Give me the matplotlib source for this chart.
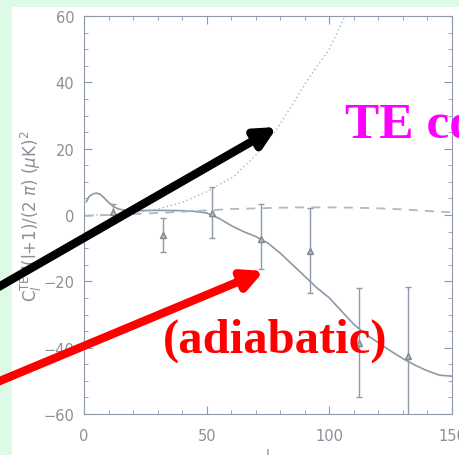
import matplotlib
matplotlib.use("Agg")
import matplotlib.pyplot as plt
from matplotlib.patches import Rectangle
from matplotlib.ticker import MultipleLocator

# adiabatic TE model (solid)
l_ad = [1, 2, 3.5, 5, 6.5, 8, 10, 12, 14, 17, 20, 30, 40, 45, 50, 55, 60, 65, 70, 75, 80, 85,
        90, 95, 100, 105, 110, 115, 120, 125, 130, 135, 140, 145, 150]
te_ad = [4, 5.5, 6.3, 6.6, 6.3, 5.3, 3.8, 2.6, 1.8, 1.4, 1.3, 1.4, 1.3, 1.1, 0.6, -1, -3.2, -5, -6.5,
         -8.5, -11.5, -15, -18.5, -22, -25, -29, -33, -36, -38.5, -41, -43.3, -45.3, -47, -48.3, -48.6]

# dashed model
l_dash = [0, 10, 20, 30, 40, 50, 60, 70, 80, 90, 100, 110, 120, 130, 140, 150]
te_dash = [-0.3, 0, 0.3, 0.6, 1, 1.4, 1.8, 2, 2.2, 2.3, 2.3, 2.2, 2, 1.7, 1.2, 0.8]

# dotted model
l_dot = [0, 10, 20, 30, 40, 50, 61, 70, 79, 92, 100, 106, 112]
te_dot = [0, 0, 0.5, 1.8, 3.8, 7, 11.6, 18, 26.3, 41.7, 50, 59.4, 67]

# data points (triangles with error bars)
l_data = [12, 32, 52, 72, 92, 112, 132]
te_data = [0.8, -5.9, 0.7, -7.1, -11, -38.5, -42.5]
err_lo = [2.5, 5.4, 7.5, 9.3, 12.6, 16.5, 20]
err_hi = [2.5, 5.1, 7.6, 10.3, 13, 16.5, 20.7]

fig = plt.figure(figsize=(4.6, 4.56), dpi=100)
fig.patch.set_facecolor("#dcfae6")
fig.add_artist(Rectangle((12 / 460, 0), 1, (456 - 8) / 456, transform=fig.transFigure,
                         facecolor="white", edgecolor="none", zorder=0))

ax = fig.add_axes([84 / 460, (456 - 415) / 456, 368 / 460, 398 / 456])
ax.set_facecolor("white")

axcol = "#8e9aa8"
ax.plot(l_ad, te_ad, color="#8c98a4", lw=1.2)
ax.plot(l_dash, te_dash, color="#a9bac8", lw=1.3, linestyle=(0, (5, 4)))
ax.plot(l_dot, te_dot, color="#9bb8d8", lw=1.0, linestyle=(0, (1, 2)))
ax.errorbar(l_data, te_data, yerr=[err_lo, err_hi], fmt="^", color="#8e9aa8",
            mfc="#b0b8c0", mec="#808890", ms=5, elinewidth=1.0, capsize=2)

ax.set_xlim(0, 150)
ax.set_ylim(-60, 60)
ax.xaxis.set_major_locator(MultipleLocator(50))
ax.xaxis.set_minor_locator(MultipleLocator(10))
ax.yaxis.set_major_locator(MultipleLocator(20))
ax.yaxis.set_minor_locator(MultipleLocator(5))
ax.tick_params(which="both", direction="in", top=True, right=True, colors=axcol,
               labelcolor="#8a8f99", labelsize=10.5)
ax.tick_params(which="major", length=6, pad=7)
ax.tick_params(which="minor", length=3)
ax.tick_params(axis="x", which="major", pad=10)
for s in ax.spines.values():
    s.set_color(axcol)

ax.set_ylabel(r"C$_l^{\rm TE}$ l(l+1)/(2 $\pi$) ($\mu$K)$^2$", color="#8a8f99", fontsize=12)
ax.yaxis.set_label_coords(-40 / 368, 0.5)
ax.set_xlabel("l", color="#8a8f99", fontsize=10)
ax.xaxis.set_label_coords(0.5, -34 / 398)

# slide annotations
fig.text(345 / 460, 1 - 137 / 456, "TE co", color="#ff00ff", fontsize=37, fontweight="bold",
         family="Liberation Serif", va="baseline", ha="left")
fig.text(163 / 460, 1 - 353 / 456, "(adiabatic)", color="#ff0000", fontsize=35, fontweight="bold",
         family="Liberation Serif", va="baseline", ha="left", zorder=5)

ax.annotate("", xy=(277 / 460, 1 - 128 / 456), xytext=(-5 / 460, 1 - 290 / 456),
            xycoords="figure fraction", textcoords="figure fraction",
            arrowprops=dict(arrowstyle="-|>,head_length=1.2,head_width=0.6", color="black", lw=6,
                            shrinkA=0, shrinkB=0), annotation_clip=False)
ax.annotate("", xy=(264 / 460, 1 - 272 / 456), xytext=(-5 / 460, 1 - 384 / 456),
            xycoords="figure fraction", textcoords="figure fraction",
            arrowprops=dict(arrowstyle="-|>,head_length=1.2,head_width=0.6", color="#ff0000", lw=6,
                            shrinkA=0, shrinkB=0), annotation_clip=False)

fig.savefig("out.png", dpi=100)
